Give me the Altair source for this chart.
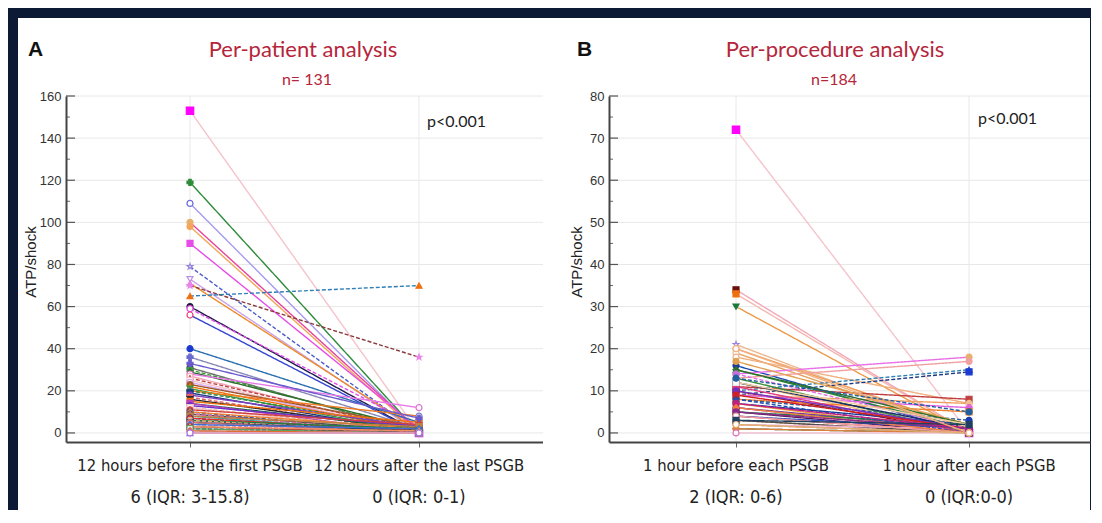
import altair as alt
import pandas as pd

# ---------------- data: panel A (per-patient) ----------------
A_BEFORE = [153, 119, 109, 100, 98, 90, 79, 73, 71, 70,
            65, 60, 59, 56, 40, 36, 31, 30, 29, 28,
            27, 26, 25, 24, 23, 22, 21, 20, 20, 19,
            18, 17, 16, 15, 14, 14, 13, 12, 12, 11,
            10, 10, 9, 9, 8, 8, 7, 7, 6, 6,
            6, 5, 5, 4, 4, 3, 3, 2, 2, 1,
            1, 0, 0, 33]
A_AFTER = [0, 0, 0, 1, 0, 2, 0, 0, 1, 36,
           70, 0, 3, 0, 5, 2, 0, 1, 2, 12,
           0, 1, 0, 0, 3, 1, 0, 8, 2, 0,
           3, 0, 1, 5, 2, 0, 3, 1, 0, 4,
           0, 2, 1, 0, 0, 3, 0, 1, 0, 2,
           0, 1, 0, 0, 2, 0, 1, 0, 0, 0,
           0, 0, 0, 7]
A_LINE = ["#f5c3cc", "#2e8b3a", "#a59af0", "#e8449a", "#f2a65a", "#e64ce6", "#4a5cc8", "#c8a2ea", "#ec8c2c", "#8b3a3a",
          "#2f7fb5", "#1c1c4c", "#e64ce6", "#3344d0", "#2a6fb0", "#8888b8", "#707070", "#3a9a3a", "#2d6e2d", "#e87ae8",
          "#f2a8b8", "#c04040", "#f5c3cc", "#d8a8f0", "#a05a2a", "#f07010", "#3a9a3a", "#f07a20", "#2d8a4a", "#1a3a80",
          "#8040c0", "#e06060", "#2a2a2a", "#f07010", "#1a6a4a", "#c040c0", "#7030c8", "#e0a060", "#f5c3cc", "#d04040",
          "#2050b0", "#f08030", "#505050", "#e060a0", "#30a0a0", "#c08040", "#3030a0", "#e03030", "#8a2a8a", "#208040",
          "#f0b070", "#204060", "#d07070", "#e080c0", "#4070d0", "#a04040", "#f09060", "#2a2a6a", "#60a060", "#c0a0e0",
          "#e07030", "#8070d0", "#f2a8b8", "#6a5acd"]
A_MARK = ["#ff00ff", "#2e8b3a", "#6a6ad8", "#e8b070", "#f2a65a", "#e64ce6", "#9a86e0", "#b890e6", "#e884e8", "#e884e8",
          "#f07010", "#1c1c3c", "#e64ce6", "#e0407a", "#1a3ad0", "#6a6ad0", "#4a4a6a", "#3a9a3a", "#2d6e2d", "#e070d0",
          "#f2a8b8", "#c04040", "#f5c3cc", "#d8a8f0", "#a05a2a", "#f07010", "#3a9a3a", "#8080d0", "#2d8a4a", "#1a3a80",
          "#8040c0", "#e06060", "#2a2a2a", "#f07010", "#1a6a4a", "#c040c0", "#7030c8", "#e0e0e0", "#f5c3cc", "#d04040",
          "#2050b0", "#f08030", "#505050", "#e060a0", "#30a0a0", "#c08040", "#3030a0", "#e03030", "#8a2a8a", "#208040",
          "#f0b070", "#204060", "#d07070", "#e080c0", "#4070d0", "#a04040", "#f09060", "#2a2a6a", "#60a060", "#c0a0e0",
          "#e07030", "#8070d0", "#b070e0", "#6a5acd"]
A_SHAPE = ["s", "x", "c", "c", "c", "s", "st", "td", "tu", "st",
           "tu", "c", "c", "c", "c", "x", "c", "c", "d", "c",
           "c", "tu", "s", "c", "c", "tu", "td", "c", "d", "s",
           "c", "td", "td", "s", "c", "s", "c", "s", "s", "c",
           "c", "d", "c", "tu", "c", "s", "c", "d", "c", "tu",
           "c", "s", "c", "c", "d", "c", "tu", "c", "s", "c",
           "d", "tu", "c", "x"]
A_FILLED = [1, 1, 0, 1, 1, 1, 0, 0, 1, 1,
            1, 1, 0, 0, 1, 1, 1, 1, 1, 0,
            0, 1, 0, 0, 1, 1, 1, 0, 1, 1,
            1, 1, 1, 1, 1, 1, 1, 0, 0, 1,
            1, 1, 1, 1, 0, 1, 1, 1, 1, 1,
            0, 1, 1, 0, 1, 1, 1, 1, 0, 0,
            1, 0, 0, 1]
A_DASHED = [0, 0, 0, 0, 0, 0, 1, 0, 0, 1,
            1, 0, 1, 0, 0, 0, 0, 1, 0, 0,
            0, 1, 0, 0, 0, 0, 0, 0, 1, 0,
            0, 1, 0, 0, 0, 0, 0, 1, 0, 0,
            1, 0, 0, 1, 0, 0, 1, 0, 0, 0,
            1, 0, 0, 1, 0, 0, 0, 1, 0, 0,
            0, 0, 0, 0]

# ---------------- data: panel B (per-procedure) ----------------
B_BEFORE = [72, 34, 33, 30, 21, 20, 19, 18, 16, 15,
            14, 13, 10, 9, 12, 11, 10, 9, 9, 8,
            8, 7, 7, 6, 6, 5, 5, 4, 4, 3,
            3, 2, 2, 1, 1, 0, 13, 12, 11, 10,
            17, 15, 14, 12, 9, 8, 7, 6, 5, 4,
            3, 2, 20, 13]
B_AFTER = [0, 0, 0, 0, 0, 1, 0, 7, 0, 1,
           18, 17, 15, 14.5, 0, 8, 0, 7, 6, 5,
           3, 2, 0, 0, 1, 0, 2, 0, 1, 0,
           0, 0, 1, 0, 0, 0, 0, 1, 0, 1,
           2, 2, 1, 2, 1, 0, 1, 0, 1, 0,
           2, 0, 0, 5]
B_LINE = ["#f5c3cc", "#f2a8b8", "#f4b8b0", "#ec9a4a", "#ecb890", "#f0a060", "#e8a060", "#f0b080", "#1a4ab0", "#2a8a3a",
          "#e870e8", "#f0a0a0", "#2f7fb5", "#1a3a80", "#f0c080", "#c04040", "#a01010", "#f0a060", "#e060e0", "#f08030",
          "#2a5a9a", "#1a3a9a", "#f0a030", "#c040c0", "#7a3a9a", "#5a1a5a", "#208040", "#e03030", "#3050c0", "#e0a060",
          "#505050", "#d07070", "#f0b0d0", "#2a7a4a", "#e08040", "#f0c0d0", "#3a8a3a", "#1a2a6a", "#e04080", "#7030c0",
          "#e0a050", "#2d6e2d", "#e070e0", "#f0d0a0", "#d02020", "#2050b0", "#c02080", "#f08040", "#8a2a8a", "#f0a0a0",
          "#204060", "#e0b070", "#f0b080", "#2060a0"]
B_MARK = ["#ff00ff", "#6a1010", "#f07010", "#1a7a3a", "#9a80e0", "#f0a060", "#e8c0a0", "#f0b080", "#1a3aa0", "#2a8a3a",
          "#e8b070", "#f0a0a0", "#3050d0", "#1a3ad0", "#f0c080", "#c04040", "#b01010", "#f0c090", "#e060e0", "#f07010",
          "#1a3ab0", "#1a3a9a", "#f0a030", "#c040c0", "#7a3a9a", "#5a1a5a", "#208040", "#e03030", "#3050c0", "#e0a060",
          "#505050", "#d07070", "#f0b0d0", "#2a7a4a", "#e08040", "#e070c0", "#3a8a3a", "#1a2a6a", "#e04080", "#7030c0",
          "#e0a050", "#2d6e2d", "#c070e0", "#e8e8e8", "#d02020", "#2050b0", "#c02080", "#f08040", "#8a2a8a", "#f0a0a0",
          "#204060", "#e0b070", "#f0b080", "#2060a0"]
B_SHAPE = ["s", "s", "s", "td", "st", "c", "c", "c", "c", "tu",
           "c", "c", "tu", "s", "c", "s", "s", "c", "x", "s",
           "c", "c", "s", "c", "d", "s", "tu", "c", "d", "tu",
           "c", "c", "c", "d", "c", "c", "tu", "s", "c", "c",
           "c", "d", "x", "s", "c", "tu", "c", "d", "c", "c",
           "s", "c", "c", "c"]
B_FILLED = [1, 1, 1, 1, 0, 0, 0, 0, 1, 1,
            1, 1, 0, 1, 0, 1, 1, 1, 1, 1,
            1, 1, 1, 1, 1, 1, 1, 1, 1, 1,
            1, 1, 0, 1, 1, 0, 1, 1, 1, 1,
            1, 1, 1, 0, 1, 1, 1, 1, 1, 0,
            1, 0, 0, 1]
B_DASHED = [0, 0, 0, 0, 0, 0, 0, 0, 0, 0,
            0, 0, 1, 1, 0, 0, 0, 0, 0, 0,
            1, 0, 0, 0, 0, 0, 0, 0, 0, 0,
            0, 0, 0, 0, 0, 0, 0, 0, 0, 0,
            0, 0, 1, 0, 0, 1, 0, 0, 0, 0,
            0, 0, 0, 1]

A_TICKS = [0, 20, 40, 60, 80, 100, 120, 140, 160]
A_MINOR = [10, 30, 50, 70, 90, 110, 130, 150]
B_TICKS = [0, 10, 20, 30, 40, 50, 60, 70, 80]
B_MINOR = [5, 15, 25, 35, 45, 55, 65, 75]

A_CATS = ["12 hours before the first PSGB", "12 hours after the last PSGB"]
A_STATS = ["6 (IQR: 3-15.8)", "0 (IQR: 0-1)"]
B_CATS = ["1 hour before each PSGB", "1 hour after each PSGB"]
B_STATS = ["2 (IQR: 0-6)", "0 (IQR:0-0)"]

# ---------------- styling ----------------
STAR = "M0,-1L0.24,-0.33L0.95,-0.31L0.38,0.12L0.59,0.81L0,0.4L-0.59,0.81L-0.38,0.12L-0.95,-0.31L-0.24,-0.33Z"
SHAPES = {"c": "circle", "s": "square", "tu": "triangle-up", "td": "triangle-down",
          "d": "diamond", "x": "cross", "st": STAR}
RED = "#b5263b"
TITLE_FONT = "Lato, Carlito, Calibri, sans-serif"
NARROW_FONT = "Liberation Sans Narrow, Arial Narrow, DejaVu Sans Condensed, Roboto, sans-serif"
AXIS_FONT = "Liberation Sans, Arial, sans-serif"
H = 346


def long_df(before, after, line, mark, shape, filled, dashed):
    rows = []
    for i in range(len(before)):
        fill = mark[i] if filled[i] else "#ffffff"
        size = 55 if i == 0 else 36
        for x, y in ((0, before[i]), (1, after[i])):
            rows.append(dict(id=i, x=x, y=y, lc=line[i], mc=mark[i], shp=SHAPES[shape[i]],
                             fc=fill, sz=size, dash="dash" if dashed[i] else "solid"))
    return pd.DataFrame(rows)


def panel(df, W, xdom, ydom, ticks, minor, cats, stats, letter, letter_x,
          title, title_x, n_text, n_x, p_pos, ylab_x, left_ext):
    xs = alt.Scale(domain=xdom, nice=False, zero=False)
    ys = alt.Scale(domain=ydom, nice=False, zero=False)

    bg = alt.Chart(alt.Data(values=[{}])).mark_rect(color="white").encode(
        x=alt.value(-left_ext), x2=alt.value(W), y=alt.value(-78), y2=alt.value(414))

    ygrid = alt.Chart(pd.DataFrame({"y": ticks})).mark_rule(color="#e8e8e8", strokeWidth=1).encode(
        y=alt.Y("y:Q", scale=ys,
                axis=alt.Axis(values=ticks, format="d", grid=False, ticks=False, domain=True,
                              domainColor="#444", domainWidth=2, labelFont=AXIS_FONT,
                              labelFontSize=13, labelColor="#333", labelPadding=5,
                              title=None, zindex=1)),
        x=alt.value(0), x2=alt.value(W))

    xgrid = alt.Chart(pd.DataFrame({"x": [0, 1]})).mark_rule(color="#e8e8e8", strokeWidth=1).encode(
        x=alt.X("x:Q", scale=xs,
                axis=alt.Axis(values=[0, 1], labels=False, ticks=True, tickSize=5, tickColor="#666",
                              grid=False, domainColor="#444", domainWidth=2, title=None, zindex=1)),
        y=alt.value(0), y2=alt.value(H))

    major = alt.Chart(pd.DataFrame({"y": ticks})).mark_rule(color="#555", strokeWidth=1.2).encode(
        y="y:Q", x=alt.value(0), x2=alt.value(9))
    minr = alt.Chart(pd.DataFrame({"y": minor})).mark_rule(color="#666", strokeWidth=1).encode(
        y="y:Q", x=alt.value(0), x2=alt.value(4))

    base = alt.Chart(df)
    lines = base.mark_line(strokeWidth=1.4).encode(
        x="x:Q", y="y:Q", detail="id:N",
        color=alt.Color("lc:N", scale=None),
        strokeDash=alt.StrokeDash("dash:N", scale=alt.Scale(domain=["solid", "dash"], range=[[1, 0], [4, 2]]),
                                  legend=None))
    points = base.mark_point(strokeWidth=1.2, opacity=1).encode(
        x="x:Q", y="y:Q",
        shape=alt.Shape("shp:N", scale=None),
        stroke=alt.Stroke("mc:N", scale=None),
        fill=alt.Fill("fc:N", scale=None),
        size=alt.Size("sz:Q", scale=None))

    catdf = pd.DataFrame({"x": [0, 1], "cat": cats, "stat": stats})
    cat_text = alt.Chart(catdf).mark_text(font=NARROW_FONT, fontSize=16.5, color="#222",
                                          baseline="middle", align="center").encode(
        x="x:Q", y=alt.value(370), text="cat:N")
    stat_text = alt.Chart(catdf).mark_text(font=NARROW_FONT, fontSize=18, color="#222",
                                           baseline="middle", align="center").encode(
        x="x:Q", y=alt.value(402), text="stat:N")

    one = alt.Data(values=[{}])
    t_letter = alt.Chart(one).mark_text(text=letter, font=AXIS_FONT, fontSize=21, fontWeight="bold",
                                        color="#111", align="left", baseline="middle").encode(
        x=alt.value(letter_x), y=alt.value(-46))
    t_title = alt.Chart(one).mark_text(text=title, font=TITLE_FONT, fontSize=22, color=RED,
                                       align="center", baseline="middle").encode(
        x=alt.value(title_x), y=alt.value(-46))
    t_n = alt.Chart(one).mark_text(text=n_text, font=TITLE_FONT, fontSize=16, color=RED,
                                   align="center", baseline="middle").encode(
        x=alt.value(n_x), y=alt.value(-16))
    t_p = alt.Chart(one).mark_text(text="p<0.001", font=TITLE_FONT, fontSize=16, color="#222",
                                   align="left", baseline="middle").encode(
        x=alt.value(p_pos[0]), y=alt.value(p_pos[1]))
    t_ylab = alt.Chart(one).mark_text(text="ATP/shock", font=AXIS_FONT, fontSize=15, color="#222",
                                      angle=270, align="center", baseline="middle").encode(
        x=alt.value(ylab_x), y=alt.value(166))

    return alt.layer(bg, ygrid, xgrid, lines, points, major, minr, cat_text, stat_text,
                     t_letter, t_title, t_n, t_p, t_ylab).properties(width=W, height=H)


dfA = long_df(A_BEFORE, A_AFTER, A_LINE, A_MARK, A_SHAPE, A_FILLED, A_DASHED)
dfB = long_df(B_BEFORE, B_AFTER, B_LINE, B_MARK, B_SHAPE, B_FILLED, B_DASHED)

pA = panel(dfA, 477, [-0.5415, 1.5415], [-4.3, 160], A_TICKS, A_MINOR, A_CATS, A_STATS,
           "A", -38, "Per-patient analysis", 237, "n= 131", 241, (361, 26), -35, 48)
pB = panel(dfB, 481, [-0.545, 1.519], [-2.15, 80], B_TICKS, B_MINOR, B_CATS, B_STATS,
           "B", -32, "Per-procedure analysis", 226, "n=184", 225, (369, 23), -32, 66)

chart = alt.hconcat(pA, pB, spacing=66, bounds="flush").properties(
    padding={"left": 10, "top": 10, "right": 0, "bottom": 0}
).configure(background="#0d1a35").configure_view(strokeWidth=0)

chart.save("out.html", embed_options={"renderer": "svg", "actions": False})
